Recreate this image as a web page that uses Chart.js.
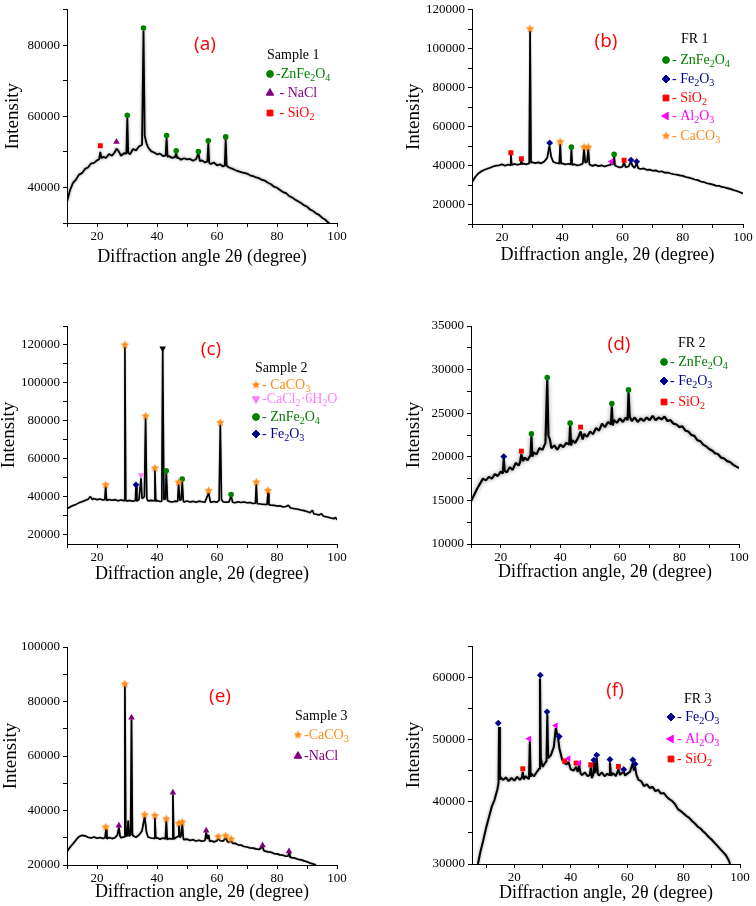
<!DOCTYPE html>
<html>
<head>
<meta charset="utf-8">
<script src="https://cdn.jsdelivr.net/npm/chart.js@4.4.0/dist/chart.umd.min.js"></script>
<style>
  body { margin: 0; background: #fff; }
  .cell { position: absolute; }
</style>
</head>
<body>
<canvas id="pa" class="cell" width="378" height="300" style="left:0;top:0"></canvas>
<canvas id="pb" class="cell" width="378" height="300" style="left:378px;top:0"></canvas>
<canvas id="pc" class="cell" width="378" height="300" style="left:0;top:300px"></canvas>
<canvas id="pd" class="cell" width="378" height="300" style="left:378px;top:300px"></canvas>
<canvas id="pe" class="cell" width="378" height="306" style="left:0;top:600px"></canvas>
<canvas id="pf" class="cell" width="378" height="306" style="left:378px;top:600px"></canvas>
<script>
// ---- data: [2theta, intensity] ----
const traceA = [[10,36000],[11,39200],[12,41300],[13,42200],[14,43600],[15,44000],[16,45200],[17,45600],[18,46700],[19,46900],[20,47600],[20.7,47900],[21.1,50000],[21.5,48200],[22,48600],[23,48300],[24,49400],[25,48900],[26,50000],[26.5,50900],[27.2,50200],[28,48900],[29,49600],[29.8,49500],[30.1,59600],[30.4,49800],[31,49300],[32,50800],[33,50400],[34,51500],[35,52000],[35.5,84000],[35.9,54500],[36.5,52400],[37,51300],[38,50200],[39,49800],[40,49300],[41,49500],[42,48800],[42.9,49000],[43.2,54000],[43.5,48600],[44,48800],[45,48300],[46,48500],[46.4,49700],[46.8,48100],[47,48400],[48,47800],[49,48200],[50,47900],[51,48000],[52,47500],[53,47900],[53.8,49600],[54.3,47400],[55,47600],[56,47000],[56.8,47300],[57.1,52500],[57.4,46900],[58,46600],[59,47000],[60,46200],[61,46500],[62,45900],[62.6,46200],[62.9,53600],[63.2,46100],[64,45600],[65,45300],[66,44900],[67,44600],[68,44300],[69,44100],[70,43900],[71,43400],[72,43200],[73,42800],[74,42600],[75,42100],[76,41900],[77,41300],[78,40900],[79,40200],[80,39900],[81,39300],[82,38700],[83,38400],[84,37600],[85,37200],[86,36600],[87,36100],[88,35600],[89,35000],[90,34600],[91,33800],[92,33400],[93,32700],[94,32300],[95,31500],[96,31000],[97,30200],[97.5,30000]];
const aZnFe2O4 = [[30.1,60300],[35.5,84800],[43.2,54600],[46.4,50300],[53.8,50100],[57.1,53100],[62.9,54200]];
const aNaCl = [[26.5,52800]];
const aSiO2 = [[21.1,51700]];

const traceB = [[10,31400],[11,34000],[12,35800],[13,36900],[14,37700],[15,38300],[16,38800],[17,39500],[18,39900],[19,40100],[20,40600],[21,39900],[22,40500],[22.7,40200],[22.9,45600],[23.2,40300],[24,40800],[25,40400],[26.1,40700],[26.4,42600],[26.7,40500],[27,41000],[28,40600],[29,41000],[29.3,109000],[29.6,41500],[30,41700],[31,41200],[32,41600],[33,41100],[34,42000],[35,44000],[35.7,50200],[36.3,44500],[37,41800],[38,41300],[39,41000],[39.3,51000],[39.6,40800],[40,41200],[41,40500],[42,40900],[42.8,40600],[43,48600],[43.3,40300],[44,40600],[45,40000],[46,40400],[46.8,41000],[47.2,48500],[47.6,41500],[48.2,41800],[48.6,48500],[49,40500],[50,39800],[51,40300],[52,39700],[53,40100],[54,39500],[55,40000],[56,40300],[56.3,41300],[56.9,40500],[57.2,45000],[57.5,40000],[58,39600],[59,39000],[60,39400],[60.5,41800],[61,39200],[62,39500],[62.8,42000],[63.3,39800],[64,38800],[64.7,41200],[65.2,38600],[66,38200],[67,38500],[68,37800],[69,37900],[70,37300],[71,37500],[72,36800],[73,37000],[74,36300],[75,36400],[76,35900],[77,35500],[78,35300],[79,34900],[80,34700],[81,34100],[82,33800],[83,33300],[84,32800],[85,32500],[86,31800],[87,31500],[88,30900],[89,30600],[90,30200],[91,29700],[92,29600],[93,29000],[94,28700],[95,28300],[96,27900],[97,27300],[98,26900],[99,26300],[100,25700]];
const bZnFe2O4 = [[43.0,49400],[57.2,45700]];
const bFe2O3 = [[35.8,51600],[62.8,42800],[64.7,42000]];
const bSiO2 = [[22.9,46500],[26.4,43500],[60.5,42700]];
const bAl2O3 = [[56.3,42000]];
const bCaCO3 = [[29.3,110100],[39.3,52100],[47.2,49400],[48.6,49400]];

const traceC = [[10,33500],[11,34500],[12,35300],[13,35900],[14,36700],[15,37300],[16,38000],[17,38600],[17.8,40000],[18.5,38500],[19,39000],[20,38400],[21,38700],[22,38200],[22.6,38400],[22.9,45500],[23.2,38000],[24,38500],[25,38100],[26,38400],[27,37800],[28,38200],[29,37900],[29.3,119000],[29.6,38100],[30,37700],[31,38000],[32,37500],[32.8,37900],[33,45500],[33.3,37600],[34,38500],[34.7,50000],[35,39000],[35.8,40000],[36.2,82000],[36.6,39000],[37,37700],[38,38000],[39,37800],[39.3,54000],[39.6,37600],[40,37900],[41,37400],[41.6,37600],[41.9,117500],[42.3,38500],[42.8,38800],[43.1,52800],[43.5,37800],[44,37500],[45,37200],[46,37600],[46.9,37500],[47.2,46800],[47.6,38000],[48.1,38500],[48.4,48300],[48.8,37400],[49,37200],[50,37700],[51,37200],[52,37500],[53,37000],[54,37600],[55,37300],[56,37100],[57.2,42000],[57.8,37300],[58,37000],[59,37400],[60,37100],[60.7,38000],[61.1,78200],[61.5,38500],[62,37300],[63,37000],[64,37200],[64.7,40500],[65.2,37000],[66,36800],[67,37300],[68,36900],[69,37200],[70,36800],[71,36900],[72,36400],[72.8,36500],[73.1,46800],[73.4,36300],[74,36200],[75,36000],[76,35800],[76.7,35900],[77,42500],[77.3,35700],[78,35500],[79,35400],[80,35000],[81,35200],[82,34500],[83,34800],[83.8,35400],[84.5,34000],[85,33900],[86,33600],[87,33300],[88,32900],[89,32600],[90,32100],[91,31500],[91.8,32800],[92.3,30800],[93,30700],[94,30300],[94.8,31000],[95.5,29600],[96,29500],[97,29100],[98,28700],[99,28400],[99.5,29000],[100,27700]];
const cCaCO3 = [[22.9,46200],[29.3,120000],[36.2,82500],[39.3,55000],[47.2,47600],[57.2,43100],[61.1,79000],[73.1,47600],[77.0,43200]];
const cCaCl2 = [[34.7,51300]];
const cUnmarked = [[41.9,118200]];
const cZnFe2O4 = [[43.1,53600],[48.4,49200],[64.7,41100]];
const cFe2O3 = [[33.0,46200]];

const traceD = [[10,14900],[11,15600],[12,16300],[13,16900],[14,17500],[15,17300],[16,17700],[17,17500],[18,18000],[19,17800],[20,18300],[20.7,18100],[21,19800],[21.3,18400],[22,18200],[23,18800],[24,18500],[25,19300],[26,19000],[26.5,19400],[26.9,20300],[27.5,19500],[28,19900],[29,19600],[30,20200],[30.3,22400],[30.6,20000],[31,20500],[32,20300],[33,21000],[34,20800],[35,21600],[35.6,28900],[36,22400],[36.5,22000],[37,21000],[38,21300],[39,20800],[40,21400],[41,21100],[42,21600],[43,21400],[43.3,23700],[43.6,21300],[44,21900],[45,21600],[46,22200],[46.8,22900],[47.5,22000],[48,22600],[49,22300],[50,22900],[51,22600],[52,23300],[53,23000],[54,23800],[55,23400],[56,24000],[57,23700],[57.3,25800],[57.6,23600],[58,24200],[59,23900],[60,24400],[61,24000],[62,24500],[62.6,24200],[62.9,27400],[63.3,24600],[64,24100],[65,24500],[66,24000],[67,24400],[68,24100],[69,24500],[70,24200],[71,24700],[72,24200],[73,24500],[74,24300],[75,24600],[76,24100],[77,24200],[78,23800],[79,23700],[80,23400],[81,23500],[82,23000],[83,22900],[84,22500],[85,22400],[86,21900],[87,21800],[88,21400],[89,21200],[90,20900],[91,20700],[92,20400],[93,20300],[94,19900],[95,19800],[96,19500],[97,19400],[98,19100],[99,18900],[100,18700]];
const dZnFe2O4 = [[30.3,22630],[35.6,29080],[43.3,23860],[57.3,26100],[62.9,27670]];
const dFe2O3 = [[21.0,20030]];
const dSiO2 = [[26.9,20650],[46.8,23400]];

const traceE = [[10,24900],[11,26500],[12,27800],[13,29200],[14,30400],[15,30900],[16,30700],[17,30200],[18,29900],[19,30300],[20,29800],[21,30100],[22,29700],[22.7,30000],[23,33200],[23.3,29600],[24,30100],[25,29700],[26,30000],[26.8,31000],[27.3,33800],[27.7,30500],[28,30000],[29,30300],[29.3,85800],[29.6,31000],[30,30500],[30.4,36300],[30.7,30600],[31.2,31000],[31.5,73500],[31.8,31500],[32,30700],[33,30200],[34,31000],[35,32500],[35.9,37800],[36.5,32000],[37,30300],[38,29900],[39,29800],[39.3,37400],[39.6,29700],[40,30000],[41,29500],[42,29900],[42.8,29600],[43.1,36200],[43.4,29400],[44,29700],[45,29600],[45.3,46000],[45.6,29500],[46,29800],[47,30500],[47.3,34600],[47.7,30000],[48.1,31000],[48.4,35100],[48.8,29600],[49,29300],[50,29500],[51,29000],[52,29300],[53,28800],[54,29100],[55,28700],[56,29000],[56.4,32000],[56.8,29500],[57.2,31000],[57.6,28600],[58,28900],[59,28500],[60,28900],[60.4,29800],[61,29000],[62,28700],[62.9,30000],[63.5,28600],[64,28300],[64.7,29000],[65.2,27900],[66,28000],[67,27400],[68,27300],[69,26800],[70,26600],[71,26300],[72,26200],[73,25900],[74,25700],[75.2,26700],[75.6,25300],[76,25100],[77,24800],[78,24700],[79,24200],[80,24100],[81,23700],[82,23600],[83,23200],[83.7,23300],[84,24500],[84.3,22900],[85,22700],[86,22500],[87,22100],[88,21900],[89,21500],[90,21200],[91,20700],[92,20400],[93,20000]];
const eCaCO3 = [[22.9,33900],[29.3,86400],[35.9,38400],[39.3,38100],[43.1,36900],[47.3,35300],[48.4,35700],[60.4,30400],[62.9,30700],[64.7,29500]];
const eNaCl = [[27.3,34500],[31.5,74100],[45.3,46600],[56.4,32600],[75.2,27200],[84.0,25000]];

const traceF = [[7.1,30000],[8,32000],[9,33800],[10,35800],[11,37500],[12,39200],[13,40300],[14,42000],[14.4,43000],[14.6,52000],[14.9,43500],[15,44000],[16,43500],[17,43900],[18,43300],[19,43800],[20,43400],[21,44000],[22,43500],[22.7,43900],[23,44800],[23.4,43600],[24,44100],[25,43700],[25.2,43900],[25.5,49700],[25.8,44000],[26,44500],[27,44100],[28,44800],[28.8,45300],[29.1,59800],[29.4,47000],[30,45600],[31,46300],[31.4,46500],[31.7,54000],[32,47000],[33,47500],[34,48800],[34.7,51800],[35.5,50300],[36,48500],[37,46700],[37.8,46200],[38.5,46000],[39.2,46400],[40,45200],[41,45000],[41.9,45600],[42.5,44800],[43,45800],[43.5,44500],[44,44300],[45,44700],[46,44100],[46.8,44300],[47.1,45500],[47.5,43800],[48,44400],[48.3,46200],[48.7,44600],[49.2,47000],[49.6,44500],[50,44200],[51,44700],[52,44100],[53,44500],[53.6,44300],[53.9,46300],[54.3,44200],[55,44600],[56,44100],[56.9,45200],[57.5,44300],[58,44600],[58.8,44800],[59.3,44200],[60,44500],[61,44800],[62,46200],[62.4,45000],[62.8,45600],[63.3,44300],[64,43500],[65,43300],[66,42500],[67,42800],[68,42200],[69,42400],[70,41700],[71,41900],[72,41300],[73,41400],[74,40800],[75,40400],[76,40100],[77,39600],[78,38800],[79,38500],[80,38100],[81,37700],[82,37400],[83,36900],[84,36500],[85,36000],[86,35700],[87,35200],[88,34800],[89,34300],[90,33900],[91,33400],[92,32900],[93,32400],[94,31900],[95,31400],[96,30600],[96.5,30000]];
const fFe2O3 = [[14.3,52620],[29.2,60320],[31.6,54430],[35.9,50470],[48.2,46690],[49.2,47490],[53.9,46780],[58.8,45180],[62.0,46730],[62.8,46040]];
const fAl2O3 = [[25.3,50100],[34.7,52240],[39.2,46950],[43.0,46200]];
const fSiO2 = [[23.0,45290],[37.8,46530],[41.9,46200],[47.1,45930],[56.9,45660]];

// axis ticks (all marks) and the ones that carry a label
const xTicks = [10, 20, 30, 40, 50, 60, 70, 80, 90, 100];
const xLabels = [20, 40, 60, 80, 100];
const yTicksA = [30000, 40000, 50000, 60000, 70000, 80000, 90000];
const yLabelsA = [40000, 60000, 80000];
const yTicksB = [10000, 20000, 30000, 40000, 50000, 60000, 70000, 80000, 90000, 100000, 110000, 120000];
const yLabelsB = [20000, 40000, 60000, 80000, 100000, 120000];
const yTicksC = [20000, 30000, 40000, 50000, 60000, 70000, 80000, 90000, 100000, 110000, 120000, 130000];
const yLabelsC = [20000, 40000, 60000, 80000, 100000, 120000];
const yTicksD = [10000, 12500, 15000, 17500, 20000, 22500, 25000, 27500, 30000, 32500, 35000];
const yLabelsD = [10000, 15000, 20000, 25000, 30000, 35000];
const yTicksE = [20000, 30000, 40000, 50000, 60000, 70000, 80000, 90000, 100000];
const yLabelsE = [20000, 40000, 60000, 80000, 100000];
const yTicksF = [30000, 35000, 40000, 45000, 50000, 55000, 60000, 65000];
const yLabelsF = [30000, 40000, 50000, 60000];

// ---- styles ----
const SERIF = '"Liberation Serif", "Times New Roman", serif';

function starCanvas(color, r) {
  const c = document.createElement('canvas');
  const s = Math.ceil(2 * r + 2);
  c.width = c.height = s;
  const g = c.getContext('2d');
  g.fillStyle = color;
  g.beginPath();
  for (let i = 0; i < 10; i++) {
    const a = -Math.PI / 2 + i * Math.PI / 5;
    const rr = i % 2 ? r * 0.45 : r;
    g.lineTo(s / 2 + rr * Math.cos(a), s / 2 + rr * Math.sin(a));
  }
  g.closePath();
  g.fill();
  return c;
}

const STY = {
  zn:    { color: '#008000', pointStyle: 'circle', radius: 2.8 },
  nacl:  { color: '#800080', pointStyle: 'triangle', radius: 3.8 },
  sio2:  { color: '#ff0000', pointStyle: 'rect', radius: 3.5 },
  fe:    { color: '#00008b', pointStyle: 'rectRot', radius: 3.4 },
  al:    { color: '#ff00ff', pointStyle: 'triangle', rotation: -90, radius: 3.8 },
  caco3: { color: '#ff8c1a', pointStyle: starCanvas('#ff8c1a', 4.5), radius: 4 },
  cacl2: { color: '#ff80ff', pointStyle: 'triangle', rotation: 180, radius: 3.8 },
  black: { color: '#000000', pointStyle: 'triangle', rotation: 180, radius: 3.8 }
};

function richText(ctx, str, x, y, size, color) {
  ctx.fillStyle = color;
  ctx.textAlign = 'left';
  ctx.textBaseline = 'middle';
  str.split(/(_\d)/).forEach(p => {
    if (!p) return;
    if (p[0] === '_') {
      ctx.font = (size * 0.72) + 'px ' + SERIF;
      ctx.fillText(p[1], x, y + size * 0.28);
      x += ctx.measureText(p[1]).width;
    } else {
      ctx.font = size + 'px ' + SERIF;
      ctx.fillText(p, x, y);
      x += ctx.measureText(p).width;
    }
  });
}

function drawMarker(ctx, st, x, y) {
  ctx.save();
  ctx.fillStyle = st.color;
  ctx.strokeStyle = st.color;
  ctx.lineWidth = 1;
  if (Chart.helpers && Chart.helpers.drawPoint) {
    Chart.helpers.drawPoint(ctx, { pointStyle: st.pointStyle, rotation: st.rotation || 0, radius: st.radius + 0.6, borderWidth: 1 }, x, y);
  } else {
    ctx.beginPath(); ctx.arc(x, y, st.radius, 0, Math.PI * 2); ctx.fill();
  }
  ctx.restore();
}

// grey halo around the measured trace (dataset 0)
const haloPlugin = {
  id: 'halo',
  beforeDatasetDraw(chart, args, o) {
    if (args.index !== 0) return;
    chart.ctx.save();
    chart.ctx.shadowColor = o.color;
    chart.ctx.shadowBlur = o.blur;
  },
  afterDatasetDraw(chart, args) {
    if (args.index !== 0) return;
    chart.ctx.restore();
  }
};

// panel letter + phase key drawn on the canvas
const keyPlugin = {
  id: 'phaseKey',
  afterDraw(chart, args, o) {
    const ctx = chart.ctx;
    ctx.save();
    ctx.font = '19px "Open Sans", "Noto Sans", sans-serif';
    ctx.fillStyle = '#ff0000';
    ctx.textAlign = 'center';
    ctx.textBaseline = 'middle';
    ctx.fillText(o.letter, o.letterX, o.letterY);
    ctx.font = '14px ' + SERIF;
    ctx.fillStyle = '#000';
    ctx.textAlign = 'left';
    ctx.fillText(o.title, o.titleX, o.titleY);
    o.rows.forEach((r, i) => {
      const st = STY[r[0]];
      drawMarker(ctx, st, o.markX, o.rowY[i]);
      richText(ctx, r[1], o.markX + 6, o.rowY[i], 14, st.color);
    });
    ctx.restore();
  }
};

function toXY(arr) { return arr.map(p => ({ x: p[0], y: p[1] })); }

function makePanel(p) {
  const datasets = [{
    data: toXY(p.trace),
    showLine: true,
    borderColor: '#000',
    borderWidth: p.lw,
    borderJoinStyle: 'bevel',
    pointRadius: 0,
    tension: 0,
    order: 2
  }];
  p.marks.forEach(m => {
    const st = STY[m[0]];
    datasets.push({
      data: toXY(m[1]),
      showLine: false,
      pointStyle: st.pointStyle,
      rotation: st.rotation || 0,
      pointRadius: st.radius,
      backgroundColor: st.color,
      borderColor: st.color,
      borderWidth: 0,
      order: 1
    });
  });
  const tickFont = { family: SERIF, size: 13 };
  new Chart(document.getElementById(p.id), {
    type: 'scatter',
    data: { datasets },
    plugins: [haloPlugin, keyPlugin],
    options: {
      responsive: false,
      animation: false,
      events: [],
      layout: { padding: { top: p.padTop, right: p.padRight, left: 0, bottom: 0 } },
      plugins: {
        legend: { display: false },
        tooltip: { enabled: false },
        halo: { color: 'rgba(0,0,0,0.45)', blur: p.blur },
        phaseKey: p.key
      },
      scales: {
        x: {
          type: 'linear', min: p.xMin, max: 100,
          afterBuildTicks: s => { s.ticks = xTicks.map(v => ({ value: v })); },
          afterFit: s => { s.height = p.xh; },
          ticks: { autoSkip: false, maxRotation: 0, padding: 2, color: '#000', font: tickFont,
                   callback: v => xLabels.includes(v) ? String(v) : '' },
          grid: { drawOnChartArea: false, drawTicks: true, tickLength: 4, color: '#000' },
          border: { display: true, color: '#000', width: 1 },
          title: { display: true, text: p.xTitle, color: '#000',
                   font: { family: SERIF, size: 18, lineHeight: 1.2 }, padding: { top: 0, bottom: p.xTitlePad } }
        },
        y: {
          type: 'linear', min: p.yMin, max: p.yMax,
          afterBuildTicks: s => { s.ticks = p.yTicks.map(v => ({ value: v })); },
          afterFit: s => { s.width = p.yw; },
          ticks: { autoSkip: false, padding: 3, color: '#000', font: { family: SERIF, size: 13, lineHeight: 1 },
                   callback: v => p.yLabels.includes(v) ? String(v) : '' },
          grid: { drawOnChartArea: false, drawTicks: true, tickLength: 4, color: '#000' },
          border: { display: true, color: '#000', width: 1 },
          title: { display: true, text: 'Intensity', color: '#000',
                   font: { family: SERIF, size: 19, lineHeight: 1 }, padding: { top: p.yTitlePad, bottom: 0 } }
        }
      }
    }
  });
}

const XT1 = 'Diffraction angle 2\u03b8 (degree)';
const XT2 = 'Diffraction angle, 2\u03b8 (degree)';

makePanel({ id: 'pa', trace: traceA, xMin: 10, yMin: 30000, yMax: 90000, yTicks: yTicksA, yLabels: yLabelsA,
  marks: [['zn', aZnFe2O4], ['nacl', aNaCl], ['sio2', aSiO2]], lw: 1.8, blur: 3,
  yw: 67, xh: 77, padTop: 6, padRight: 41, yTitlePad: 4, xTitlePad: 32, xTitle: XT1,
  key: { letter: '(a)', letterX: 205, letterY: 45, title: 'Sample 1', titleX: 267, titleY: 55, markX: 270, rowY: [74, 93, 113],
         rows: [['zn', '-ZnFe_2O_4'], ['nacl', ' - NaCl'], ['sio2', ' - SiO_2']] } });

makePanel({ id: 'pb', trace: traceB, xMin: 10, yMin: 10000, yMax: 120000, yTicks: yTicksB, yLabels: yLabelsB,
  marks: [['zn', bZnFe2O4], ['fe', bFe2O3], ['sio2', bSiO2], ['al', bAl2O3], ['caco3', bCaCO3]], lw: 1.7, blur: 1.5,
  yw: 94, xh: 76, padTop: 6, padRight: 13, yTitlePad: 27, xTitlePad: 34, xTitle: XT2,
  key: { letter: '(b)', letterX: 228, letterY: 42, title: 'FR 1', titleX: 303, titleY: 39, markX: 288, rowY: [60, 79, 98, 116, 136],
         rows: [['zn', '- ZnFe_2O_4'], ['fe', '- Fe_2O_3'], ['sio2', '- SiO_2'], ['al', '- Al_2O_3'], ['caco3', '- CaCO_3']] } });

makePanel({ id: 'pc', trace: traceC, xMin: 10, yMin: 15000, yMax: 130000, yTicks: yTicksC, yLabels: yLabelsC,
  marks: [['caco3', cCaCO3], ['cacl2', cCaCl2], ['black', cUnmarked], ['zn', cZnFe2O4], ['fe', cFe2O3]], lw: 1.6, blur: 1.5,
  yw: 67, xh: 56, padTop: 26, padRight: 41, yTitlePad: 0, xTitlePad: 15, xTitle: XT2,
  key: { letter: '(c)', letterX: 211, letterY: 50, title: 'Sample 2', titleX: 255, titleY: 68, markX: 256, rowY: [85, 99, 117, 134],
         rows: [['caco3', '- CaCO_3'], ['cacl2', '-CaCl_2\u00b76H_2O'], ['zn', '- ZnFe_2O_4'], ['fe', '- Fe_2O_3']] } });

makePanel({ id: 'pd', trace: traceD, xMin: 10, yMin: 10000, yMax: 35000, yTicks: yTicksD, yLabels: yLabelsD,
  marks: [['zn', dZnFe2O4], ['fe', dFe2O3], ['sio2', dSiO2]], lw: 2.2, blur: 4,
  yw: 93, xh: 56, padTop: 26, padRight: 17, yTitlePad: 27, xTitlePad: 16.5, xTitle: XT2,
  key: { letter: '(d)', letterX: 241, letterY: 45, title: 'FR 2', titleX: 300, titleY: 43, markX: 286, rowY: [62, 81, 102],
         rows: [['zn', '- ZnFe_2O_4'], ['fe', '- Fe_2O_3'], ['sio2', '- SiO_2']] } });

makePanel({ id: 'pe', trace: traceE, xMin: 10, yMin: 20000, yMax: 100000, yTicks: yTicksE, yLabels: yLabelsE,
  marks: [['caco3', eCaCO3], ['nacl', eNaCl]], lw: 1.7, blur: 1.5,
  yw: 67, xh: 41, padTop: 47, padRight: 41, yTitlePad: 2, xTitlePad: 2.5, xTitle: XT2,
  key: { letter: '(e)', letterX: 220, letterY: 97, title: 'Sample 3', titleX: 295, titleY: 116, markX: 298, rowY: [135, 156],
         rows: [['caco3', '-CaCO_3'], ['nacl', '-NaCl']] } });

makePanel({ id: 'pf', trace: traceF, xMin: 5, yMin: 30000, yMax: 65000, yTicks: yTicksF, yLabels: yLabelsF,
  marks: [['fe', fFe2O3], ['al', fAl2O3], ['sio2', fSiO2]], lw: 2, blur: 3,
  yw: 94, xh: 42, padTop: 46, padRight: 16, yTitlePad: 27, xTitlePad: 2, xTitle: XT2,
  key: { letter: '(f)', letterX: 237, letterY: 91, title: 'FR 3', titleX: 306, titleY: 99, markX: 293, rowY: [117, 139, 159],
         rows: [['fe', '- Fe_2O_3'], ['al', '- Al_2O_3'], ['sio2', '- SiO_2']] } });
</script>
</body>
</html>
